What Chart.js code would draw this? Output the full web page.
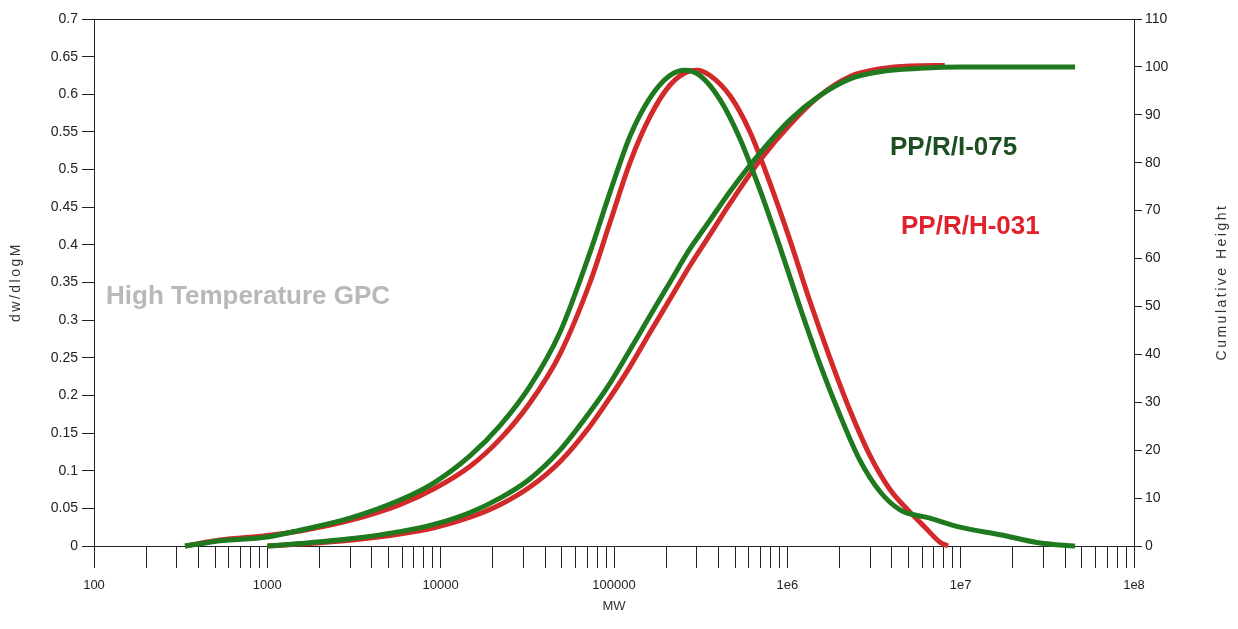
<!DOCTYPE html>
<html>
<head>
<meta charset="utf-8">
<title>High Temperature GPC</title>
<script src="https://cdn.jsdelivr.net/npm/chart.js@4.4.1/dist/chart.umd.min.js"></script>
<style>
  html, body { margin: 0; padding: 0; background: #fff; }
  canvas { display: block; }
</style>
</head>
<body>
<canvas id="canvas_gpc" width="1238" height="629"></canvas>
<script>
// labels shown at each decade of the MW axis
const decadeLabels = ['100', '1000', '10000', '100000', '1e6', '1e7', '1e8'];

// PP/R/I-075 - dw/dlogM
const mwDiffI075 = [335, 409, 533, 1000, 1545, 3000, 5820, 9150, 14800, 22000, 32700, 48800, 72700, 94900,
  124000, 161000, 210000, 257000, 313000, 409000, 533000, 695000, 907000, 1.18e6, 1.54e6, 2.01e6,
  2.62e6, 3.43e6, 4.47e6, 6.65e6, 9.9e6, 1.69e7, 2.87e7, 4.57e7];
const diffI075 = [0, 0.003, 0.007, 0.012, 0.021, 0.037, 0.061, 0.084, 0.12, 0.16, 0.212, 0.284, 0.39, 0.47,
  0.545, 0.595, 0.625, 0.632, 0.625, 0.593, 0.541, 0.473, 0.397, 0.318, 0.242, 0.174,
  0.114, 0.072, 0.048, 0.037, 0.025, 0.015, 0.004, 0];

// PP/R/H-031 - dw/dlogM
const mwDiffH031 = [335, 533, 1000, 1545, 3000, 5820, 9150, 14800, 22000, 32700, 48800, 72700, 94900,
  124000, 161000, 210000, 274000, 301000, 358000, 467000, 609000, 794000, 1.04e6, 1.35e6, 1.76e6,
  2.30e6, 3.0e6, 3.91e6, 5.1e6, 6.22e6, 7.6e6, 8.45e6];
const diffH031 = [0, 0.008, 0.014, 0.02, 0.034, 0.055, 0.076, 0.106, 0.142, 0.19, 0.255, 0.35, 0.43,
  0.51, 0.57, 0.612, 0.631, 0.632, 0.625, 0.598, 0.55, 0.482, 0.405, 0.325, 0.25,
  0.18, 0.12, 0.075, 0.045, 0.025, 0.005, 0];

// PP/R/I-075 - cumulative height
const mwCumI075 = [1000, 1545, 3000, 5820, 9150, 14800, 22000, 32700, 48800, 72700, 94900, 124000, 161000,
  210000, 274000, 358000, 467000, 695000, 1.04e6, 1.54e6, 2.30e6, 3.43e6, 5.83e6, 9.9e6, 1.69e7, 4.57e7];
const cumI075 = [0, 0.5, 1.5, 3, 4.5, 7, 10, 14, 20, 28, 34, 41, 48,
  55, 62, 68, 74, 82, 89, 94, 97.5, 99, 99.7, 100, 100, 100];

// PP/R/H-031 - cumulative height
const mwCumH031 = [1000, 1545, 3000, 5820, 9150, 14800, 22000, 32700, 48800, 72700, 94900, 124000, 161000,
  210000, 274000, 358000, 467000, 695000, 1.04e6, 1.54e6, 2.30e6, 3.43e6, 5.1e6, 8.1e6];
const cumH031 = [0, 0.4, 1.2, 2.5, 3.8, 6, 8.6, 12.3, 17.6, 25, 31, 37.5, 44.5,
  51.5, 58.5, 65, 71.5, 80.5, 88, 94, 98, 99.6, 100.2, 100.3];

const GREEN = '#1f7a1f';
const RED = '#d22a2a';
const AXIS = '#222';
const tickFamily = '"Liberation Sans", Arial, sans-serif';

const toPoints = (xs, ys) => xs.map((m, i) => ({ x: m, y: ys[i] }));

const line = (label, xs, ys, color, axis, order) => ({
  label: label,
  data: toPoints(xs, ys),
  yAxisID: axis,
  borderColor: color,
  backgroundColor: color,
  borderWidth: 5,
  pointRadius: 0,
  fill: false,
  cubicInterpolationMode: 'monotone',
  clip: 6,
  order: order
});

// frame line on top, curve names and axis titles
const decorations = {
  id: 'decorations',
  afterDraw(chart) {
    const { ctx, chartArea: a } = chart;
    ctx.save();
    ctx.strokeStyle = AXIS;
    ctx.lineWidth = 1;
    ctx.beginPath();
    ctx.moveTo(a.left, a.top + 0.5);
    ctx.lineTo(a.right, a.top + 0.5);
    ctx.stroke();

    ctx.textBaseline = 'middle';
    ctx.textAlign = 'left';
    ctx.font = 'bold 26px "Liberation Sans", Arial, sans-serif';
    ctx.fillStyle = '#b8b8b8';
    ctx.fillText('High Temperature GPC', 106, 297);
    ctx.fillStyle = '#1d4f22';
    ctx.fillText('PP/R/I-075', 890, 148);
    ctx.fillStyle = '#e0222c';
    ctx.fillText('PP/R/H-031', 901, 227);

    ctx.fillStyle = '#333';
    ctx.textAlign = 'center';
    ctx.font = '13px ' + tickFamily;
    ctx.fillText('MW', (a.left + a.right) / 2, 606);

    ctx.font = '14px "Liberation Sans", Arial, sans-serif';
    ctx.letterSpacing = '2.5px';
    ctx.save();
    ctx.translate(16, 282);
    ctx.rotate(-Math.PI / 2);
    ctx.fillText('dw/dlogM', 0, 0);
    ctx.restore();
    ctx.save();
    ctx.translate(1222, 282);
    ctx.rotate(-Math.PI / 2);
    ctx.fillText('Cumulative Height', 0, 0);
    ctx.restore();
    ctx.restore();
  }
};

new Chart(document.getElementById('canvas_gpc'), {
  type: 'line',
  data: {
    datasets: [
      line('PP/R/H-031', mwDiffH031, diffH031, RED, 'y', 3),
      line('PP/R/I-075', mwDiffI075, diffI075, GREEN, 'y', 1),
      line('PP/R/H-031 cumulative', mwCumH031, cumH031, RED, 'y2', 2),
      line('PP/R/I-075 cumulative', mwCumI075, cumI075, GREEN, 'y2', 0)
    ]
  },
  options: {
    responsive: false,
    animation: false,
    layout: { padding: { top: 19, left: 0, right: 0, bottom: 0 } },
    plugins: {
      legend: { display: false },
      tooltip: { enabled: false }
    },
    scales: {
      x: {
        type: 'logarithmic',
        min: 100,
        max: 1e8,
        afterFit: (s) => { s.height = 83; },
        afterBuildTicks: (s) => {
          const ticks = [];
          for (let e = 2; e < 8; e++) {
            for (let m = 1; m < 10; m++) ticks.push({ value: m * Math.pow(10, e) });
          }
          ticks.push({ value: 1e8 });
          s.ticks = ticks;
        },
        grid: { drawOnChartArea: false, tickLength: 22, tickColor: AXIS, color: AXIS },
        border: { display: true, color: AXIS },
        ticks: {
          autoSkip: false,
          maxRotation: 0,
          padding: 10,
          color: '#222',
          font: { family: tickFamily, size: 13 },
          callback: (v) => {
            const e = Math.log10(v);
            return Math.abs(e - Math.round(e)) < 1e-9 ? decadeLabels[Math.round(e) - 2] : '';
          }
        }
      },
      y: {
        position: 'left',
        min: 0,
        max: 0.7,
        afterFit: (s) => { s.width = 94; },
        grid: { drawOnChartArea: false, tickLength: 12, tickColor: AXIS },
        border: { display: true, color: AXIS },
        ticks: {
          stepSize: 0.05,
          padding: 4,
          color: '#222',
          font: { family: tickFamily, size: 14 },
          callback: (v) => String(parseFloat(v.toFixed(2)))
        }
      },
      y2: {
        position: 'right',
        min: 0,
        max: 110,
        afterFit: (s) => { s.width = 104; },
        grid: { drawOnChartArea: false, tickLength: 8, tickColor: AXIS },
        border: { display: true, color: AXIS },
        ticks: {
          stepSize: 10,
          padding: 3,
          color: '#222',
          font: { family: tickFamily, size: 14 }
        }
      }
    }
  },
  plugins: [decorations]
});
</script>
</body>
</html>
